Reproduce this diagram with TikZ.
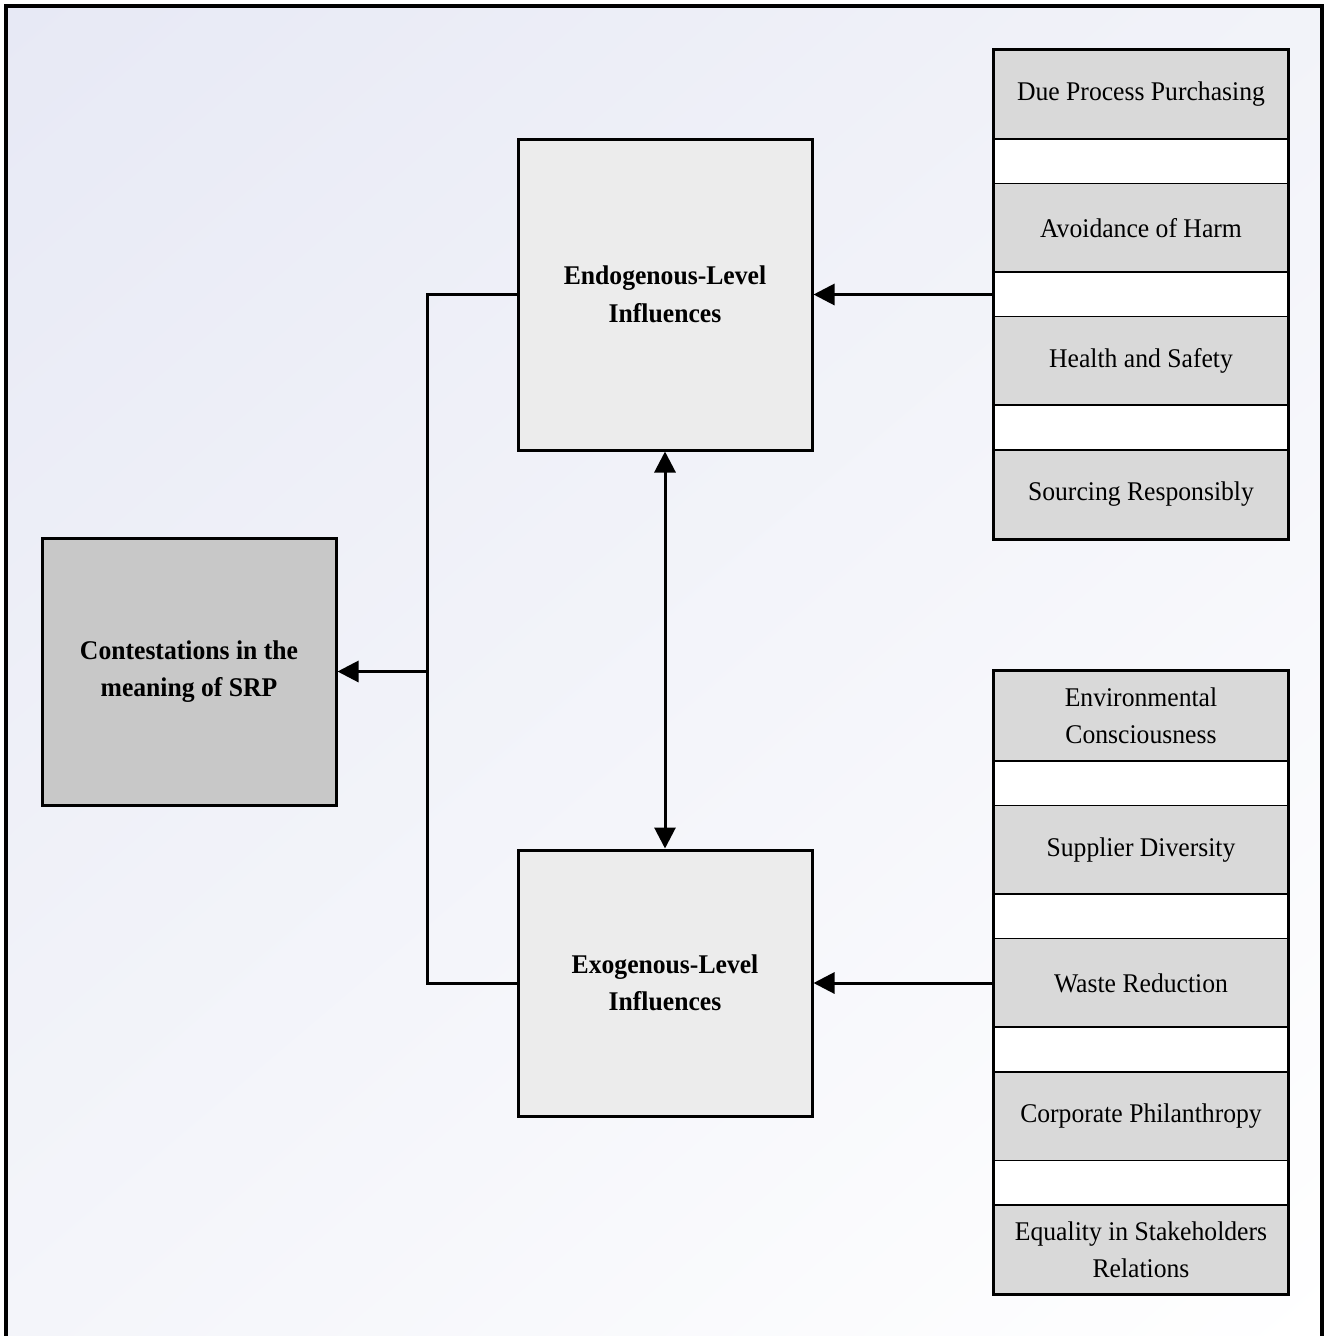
\documentclass[tikz,border=0pt]{standalone}
\usepackage{fontspec}
\setmainfont{Liberation Serif}[FakeStretch=0.95]
\usetikzlibrary{arrows.meta,shadings}
\definecolor{cellgray}{HTML}{D9D9D9}
\definecolor{boxgray}{HTML}{ECECEC}
\definecolor{darkbox}{HTML}{C8C8C8}
\definecolor{bgA}{HTML}{E7E9F5}
\definecolor{bgB}{HTML}{F2F3F9}
\definecolor{bgC}{HTML}{F4F5FA}
\definecolor{bgD}{HTML}{FFFFFF}
\begin{document}
\begin{tikzpicture}[x=1pt,y=-1pt,
  txt/.style={font=\fontsize{27}{37.5}\selectfont,align=center,inner sep=0pt},
  mainbox/.style={txt,draw=black,line width=3pt,fill=boxgray,minimum width=294pt,font=\fontsize{27}{37.5}\selectfont\bfseries},
  cell/.style={txt,draw=black,line width=1.6pt,fill=cellgray,minimum width=294pt,minimum height=89pt},
  gap/.style={txt,draw=black,line width=1.6pt,fill=white,minimum width=294pt,minimum height=45pt},
  conn/.style={line width=3pt},
  arr/.style={line width=3pt,-{Triangle[length=21pt,width=21pt]}},
  darr/.style={line width=3pt,{Triangle[length=21pt,width=21pt]}-{Triangle[length=21pt,width=21pt]}}
]
\useasboundingbox (0,0) rectangle (1325,1336);
\shade[upper left=bgA,upper right=bgB,lower left=bgC,lower right=bgD] (6,6) rectangle (1322,1336);
\begin{scope}
\clip (0,0) rectangle (1325,1336);
\draw[line width=4pt] (6,1345) -- (6,6) -- (1322,6) -- (1322,1345);
\end{scope}

% main boxes
\node[mainbox,minimum height=311pt] (endo) at (665,294.5) {Endogenous-Level\\Influences};
\node[mainbox,minimum height=266pt] (exo) at (665,983) {Exogenous-Level\\Influences};
\node[mainbox,fill=darkbox,minimum height=267pt] (cont) at (189,671.5) {Contestations in the\\meaning of SRP};

% top right column
\node[cell] (c1) at (1141,94.5) {\raisebox{-3pt}{Due Process Purchasing}};
\node[gap] (g1) at (1141,161.5) {};
\node[cell] (c2) at (1141,228) {Avoidance of Harm};
\node[gap] (g2) at (1141,294.5) {};
\node[cell] (c3) at (1141,361) {\raisebox{-2pt}{Health and Safety}};
\node[gap] (g3) at (1141,427.5) {};
\node[cell] (c4) at (1141,494.5) {\raisebox{-2pt}{Sourcing Responsibly}};
\draw[line width=3pt] (c1.north west) rectangle (c4.south east);

% bottom right column
\node[cell] (d1) at (1141,716) {Environmental\\Consciousness};
\node[gap] (h1) at (1141,783.5) {};
\node[cell] (d2) at (1141,850) {Supplier Diversity};
\node[gap] (h2) at (1141,916.5) {};
\node[cell] (d3) at (1141,983) {Waste Reduction};
\node[gap] (h3) at (1141,1049.5) {};
\node[cell] (d4) at (1141,1116.5) {\raisebox{-2pt}{Corporate Philanthropy}};
\node[gap] (h4) at (1141,1183) {};
\node[cell] (d5) at (1141,1249.5) {Equality in Stakeholders\\Relations};
\draw[line width=3pt] (d1.north west) rectangle (d5.south east);

% connectors
\coordinate (bus) at (427,671.5);
\draw[conn] (endo.west) -| (bus) |- (exo.west);
\draw[arr] (bus) -- (cont.east);
\draw[arr] (g2.west) -- (endo.east);
\draw[arr] (d3.west) -- (exo.east);
\draw[darr] (endo.south) -- (exo.north);
\end{tikzpicture}
\end{document}
